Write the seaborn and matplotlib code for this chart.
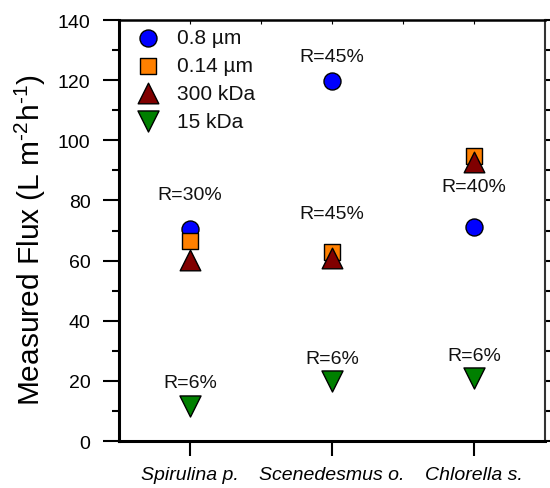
import matplotlib
matplotlib.use("Agg")
import matplotlib.pyplot as plt
import seaborn as sns
import pandas as pd
from matplotlib.ticker import MultipleLocator

sns.set_theme(style="ticks")
plt.rcParams['font.family'] = ['Liberation Sans', 'DejaVu Sans']
plt.rcParams['mathtext.fontset'] = 'custom'
plt.rcParams['mathtext.rm'] = 'Liberation Sans'
plt.rcParams['mathtext.it'] = 'Liberation Sans:italic'
plt.rcParams['text.color'] = 'black'
plt.rcParams['axes.labelcolor'] = 'black'
plt.rcParams['xtick.color'] = 'black'
plt.rcParams['ytick.color'] = 'black'

species = ["Spirulina p.", "Scenedesmus o.", "Chlorella s."]
membranes = ["0.8 µm", "0.14 µm", "300 kDa", "15 kDa"]
flux_08um = [70.5, 119.7, 71.1]
flux_014um = [66.5, 62.8, 94.8]
flux_300kda = [60.3, 60.8, 92.8]
flux_15kda = [11.8, 19.8, 20.8]
rejection_labels = [
    ("Spirulina p.", 82.0, "R=30%"),
    ("Scenedesmus o.", 128.0, "R=45%"),
    ("Scenedesmus o.", 75.5, "R=45%"),
    ("Chlorella s.", 84.5, "R=40%"),
    ("Spirulina p.", 19.6, "R=6%"),
    ("Scenedesmus o.", 27.6, "R=6%"),
    ("Chlorella s.", 28.3, "R=6%"),
]

colors = {"0.8 µm": "#0000ff", "0.14 µm": "#ff8000", "300 kDa": "#800000", "15 kDa": "#008000"}
markers = {"0.8 µm": "o", "0.14 µm": "s", "300 kDa": "^", "15 kDa": "v"}
sizes = {"0.8 µm": 150, "0.14 µm": 120, "300 kDa": 220, "15 kDa": 230}

rows = []
for m, vals in zip(membranes, [flux_08um, flux_014um, flux_300kda, flux_15kda]):
    for i, v in enumerate(vals):
        rows.append({"x": i + 1, "Species": species[i], "Membrane": m, "Flux": v})
df = pd.DataFrame(rows)

fig = plt.figure(figsize=(5.5, 4.89), dpi=100)
ax = fig.add_axes([0.2164, 0.0961, 0.7745, 0.8609])

for m in membranes:
    sub = df[df["Membrane"] == m]
    sns.scatterplot(data=sub, x="x", y="Flux", ax=ax, color=colors[m], marker=markers[m],
                    s=sizes[m], edgecolor="black", linewidth=1.0, label=m, zorder=3)

pos = {s: i + 1 for i, s in enumerate(species)}
for sp, y, t in rejection_labels:
    ax.text(pos[sp], y, t, ha="center", va="center", fontsize=14, color="#111111")

ax.set_xlim(0.5, 3.5)
ax.set_ylim(0, 140)
ax.set_xticks([1, 2, 3])
ax.set_xticklabels(species, fontsize=14, style="italic")
ax.yaxis.set_major_locator(MultipleLocator(20))
ax.yaxis.set_minor_locator(MultipleLocator(10))
ax.tick_params(axis="y", which="major", direction="out", length=11.5, width=1.5, labelsize=14,
               left=True, right=True, labelright=False, colors="black", pad=9)
ax.tick_params(axis="y", which="minor", direction="out", length=5, width=1.5, left=True, right=True)
ax.tick_params(axis="x", which="major", direction="out", length=11, width=1.5, labelsize=14,
               bottom=True, top=False, pad=7, colors="black")
ax.set_xlabel("")
ax.set_ylabel("Measured Flux (L m$^{\\text{-2}}$h$^{\\text{-1}}$)", fontsize=21.5, color="black")
ax.yaxis.set_label_coords(-0.167, 0.48)

secx = ax.secondary_xaxis("top")
secx.set_xticks([1, 1.5, 2, 2.5, 3])
secx.tick_params(direction="in", length=3, width=0.8, labeltop=False)
secx.spines["top"].set_visible(False)

for side, lw in [("left", 2.2), ("bottom", 2.2), ("top", 1.8), ("right", 1.5)]:
    ax.spines[side].set_linewidth(lw)
    ax.spines[side].set_color("black")
ax.spines["right"].set_color("#333333")

leg = ax.legend(loc="upper left", bbox_to_anchor=(0.0, 1.0), frameon=False, fontsize=15,
                handlelength=2.0, handletextpad=0.4, labelspacing=0.42, borderaxespad=0.2,
                borderpad=0.2)
for t in leg.get_texts():
    t.set_color("#111111")

fig.savefig("out.png", dpi=100)
